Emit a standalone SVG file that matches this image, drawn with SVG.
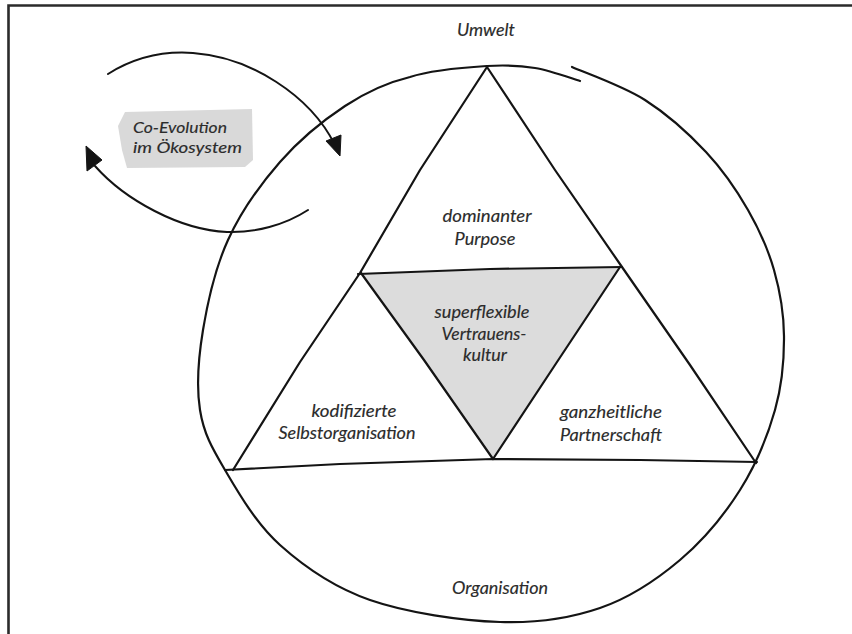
<svg xmlns="http://www.w3.org/2000/svg" width="852" height="634" viewBox="0 0 852 634">
<style>
.ln{fill:none;stroke:#141414;stroke-width:2.2;stroke-linecap:round;stroke-linejoin:round}
.arc{fill:none;stroke:#141414;stroke-width:2;stroke-linecap:round}
.head{fill:#141414;stroke:#141414;stroke-width:1;stroke-linejoin:round}
.t{font-family:"Lato","Open Sans","DejaVu Sans",sans-serif;font-style:italic;font-size:18px;fill:#2b2b2b;stroke:#2b2b2b;stroke-width:0.15;text-anchor:middle}
.tl{font-family:"Lato","Open Sans","DejaVu Sans",sans-serif;font-style:italic;font-size:16px;fill:#2b2b2b;stroke:#2b2b2b;stroke-width:0.15;text-anchor:start}
</style>
<rect x="0" y="0" width="852" height="634" fill="#ffffff"/>
<g id="frame">
<path d="M8.5,634 V5.5 H852" fill="none" stroke="#2b2b2b" stroke-width="2.6"/>
</g>
<g id="organisation">
<path class="ln" d="M580,81 C572.5,78.8 550.5,70.5 535,68 C519.5,65.5 507.8,64.7 487,66 C466.2,67.3 433.7,69.3 410,77 C386.3,82.7 366.7,91.7 345,106 C323.3,120.3 299.5,139.7 280,162 C260.5,184.3 240.8,212 228,240 C215.2,268 207.7,301.7 203,330 C198.3,358.3 196.3,386.7 200,410 C203.7,433.3 211.7,447.5 225,470 C238.3,492.5 255.8,523.3 280,545 C304.2,566.7 333.3,587.2 370,600 C406.7,612.8 461.7,620.7 500,622 C538.3,623.3 570,618.3 600,608 C630,597.7 656.7,579.7 680,560 C703.3,540.3 724.2,515 740,490 C755.8,465 767.7,435.7 775,410 C782.3,384.3 784.2,359.3 784,336 C783.8,312.7 780,291 774,270 C768,249 759.3,229.7 748,210 C736.7,190.3 723.2,170.3 706,152 C688.8,133.7 667.3,114.2 645,100 C622.7,85.8 584.2,72.5 572,67"/>
<text class="t" x="500" y="594" textLength="96" lengthAdjust="spacingAndGlyphs">Organisation</text>
</g>
<g id="umwelt">
<text class="t" x="486" y="36" font-size="17" textLength="58" lengthAdjust="spacingAndGlyphs">Umwelt</text>
</g>
<g id="vertrauenskultur">
<path d="M361,273 L620,267 L493,459 Z" fill="#dcdcdc" stroke="none"/>
<path class="ln" d="M361,273 L424,360 L493,459 L557,362 L620,267"/>
<text class="t" x="482" y="318" font-size="17" textLength="95" lengthAdjust="spacingAndGlyphs">superflexible</text>
<text class="t" x="484" y="340" font-size="17" textLength="85" lengthAdjust="spacingAndGlyphs">Vertrauens-</text>
<text class="t" x="485" y="361" font-size="17" textLength="44" lengthAdjust="spacingAndGlyphs">kultur</text>
</g>
<g id="triangle">
<path class="ln" d="M233,470 L300,362 L360,273 L420,170 L487,67 L555,170 L622,267 L690,365 L756,463"/>
<path class="ln" d="M358,274 L490,269 L622,267"/>
<path class="ln" d="M225,470 L340,464 L493,459 L640,460 L757,462"/>
</g>
<g id="purpose">
<text class="t" x="487" y="222" textLength="89" lengthAdjust="spacingAndGlyphs">dominanter</text>
<text class="t" x="485" y="245" textLength="61" lengthAdjust="spacingAndGlyphs">Purpose</text>
</g>
<g id="selbstorganisation">
<text class="t" x="354" y="417" textLength="85" lengthAdjust="spacingAndGlyphs">kodifizierte</text>
<text class="t" x="347" y="439" textLength="137" lengthAdjust="spacingAndGlyphs">Selbstorganisation</text>
</g>
<g id="partnerschaft">
<text class="t" x="611" y="418" textLength="102" lengthAdjust="spacingAndGlyphs">ganzheitliche</text>
<text class="t" x="611" y="441" textLength="102" lengthAdjust="spacingAndGlyphs">Partnerschaft</text>
</g>
<g id="coevolution">
<path d="M125,112 L252,109 L253,160 L245,167 L127,168 L122,150 L118,126 Z" fill="#d9d9d9"/>
<text class="tl" x="133" y="133" textLength="94" lengthAdjust="spacingAndGlyphs">Co-Evolution</text>
<text class="tl" x="133" y="153" textLength="109" lengthAdjust="spacingAndGlyphs">im Ökosystem</text>
</g>
<g id="connectors">
<path class="arc" d="M108,74 C135,57 165,51 193,53 C250,57 310,95 335,145"/>
<polygon class="head" points="340,156 326,141 341,135"/>
<path class="arc" d="M308,210 C285,225 255,233 227,232 C180,230 125,200 95,166"/>
<polygon class="head" points="86,146 87,171 102,160"/>
</g>
</svg>
